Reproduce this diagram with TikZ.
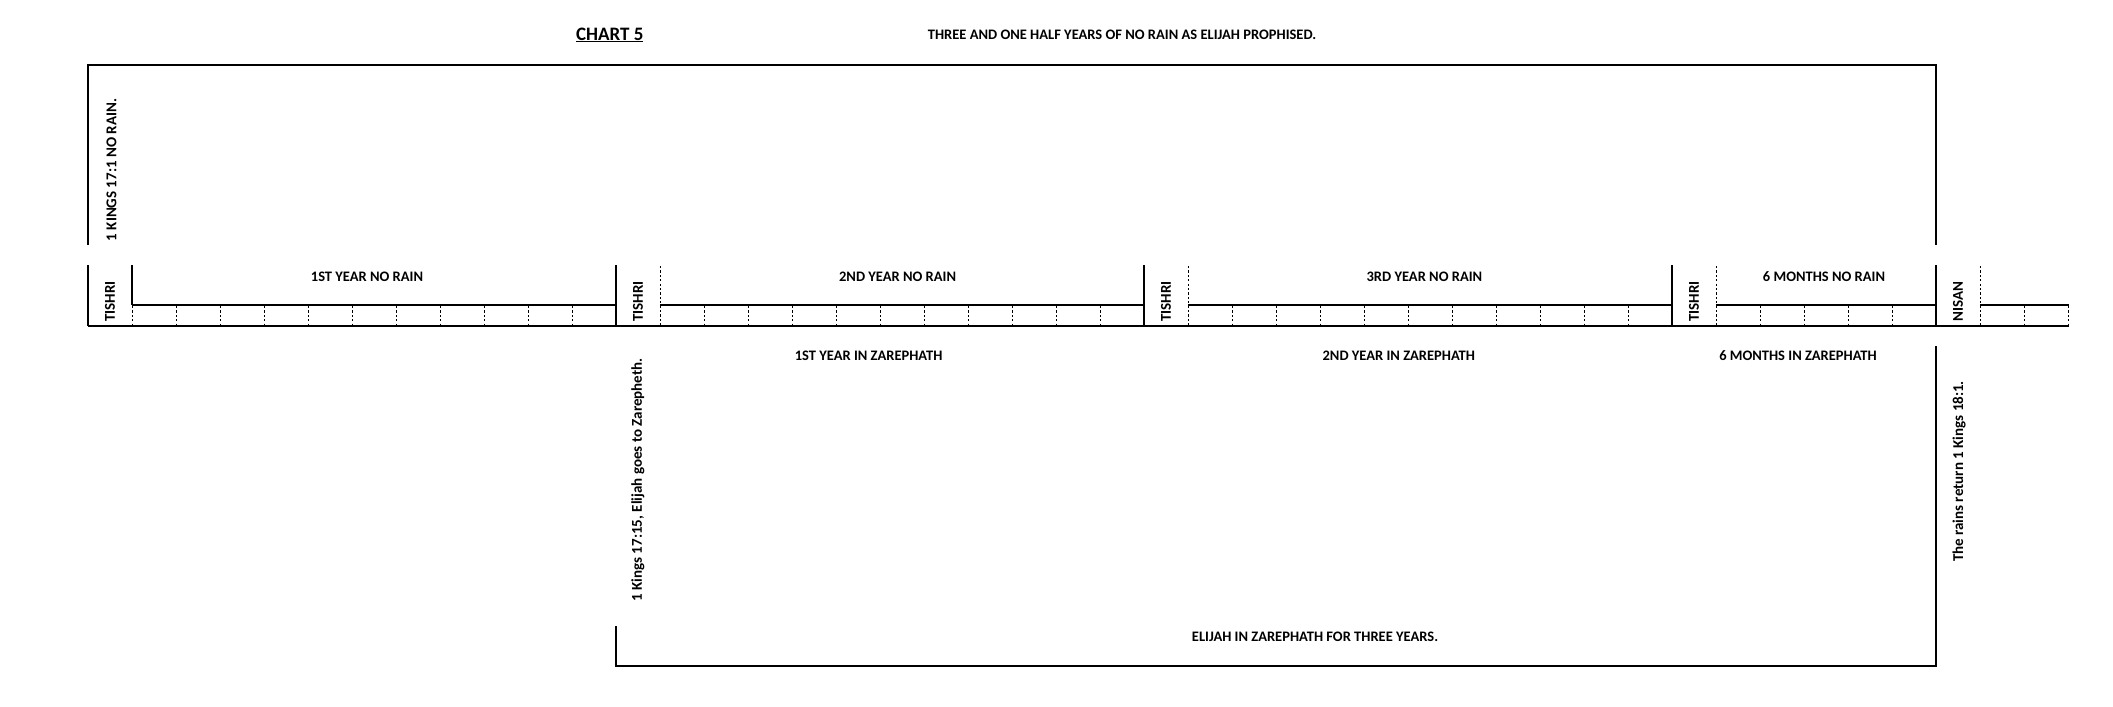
\documentclass[tikz,border=0pt]{standalone}
\usepackage{fontspec}
\setmainfont{Carlito}
\begin{document}
\begin{tikzpicture}[x=1pt,y=-1pt,
  frame/.style={line width=2pt},
  dotline/.style={line width=1pt, dash pattern=on 2.2pt off 2.2pt},
  lbl/.style={font=\bfseries\fontsize{14.5}{17}\selectfont, inner sep=0pt},
  vlbl/.style={lbl, font=\bfseries\fontsize{15}{18}\selectfont, rotate=90},
]
\useasboundingbox (0,0) rectangle (2113,707);
\fill[white] (0,0) rectangle (2113,707);

% frames
\draw[frame] (88,245) -- (88,65) -- (1936,65) -- (1936,245);
\draw[frame] (616,626) -- (616,666) -- (1936,666) -- (1936,346);

% timeline
\draw[frame] (88,325.5) -- (2068.5,325.5);
\foreach \x in {88,616,1144,1672,1936} \draw[frame] (\x,265) -- (\x,325.5);
\draw[frame] (132,265) -- (132,304.5);
\draw[frame] (132,304.5) -- (616,304.5);
\draw[frame] (660,304.5) -- (1144,304.5);
\draw[frame] (1188,304.5) -- (1672,304.5);
\draw[frame] (1716,304.5) -- (1936,304.5);
\draw[frame] (1980,304.5) -- (2068.5,304.5);

% dotted full-height after TISHRI / NISAN
\foreach \x in {660,1188,1716,1980} \draw[dotline] (\x,266) -- (\x,325);
% month ticks
\foreach \x in {132,176,...,573} \draw[dotline] (\x,306) -- (\x,325);
\foreach \x in {704,748,...,1101} \draw[dotline] (\x,306) -- (\x,325);
\foreach \x in {1232,1276,...,1629} \draw[dotline] (\x,306) -- (\x,325);
\foreach \x in {1760,1804,...,1893} \draw[dotline] (\x,306) -- (\x,325);
\foreach \x in {2024,2068.5} \draw[dotline] (\x,306) -- (\x,325);

% titles
\node[lbl, font=\bfseries\fontsize{19}{22}\selectfont] (title) at (609.7,35) {\underline{CHART 5}};
\node[lbl] (head) at (1122,35) {THREE AND ONE HALF YEARS OF NO RAIN AS ELIJAH PROPHISED.};

% year labels
\node[lbl] (y1) at (367,276.7) {1ST YEAR NO RAIN};
\node[lbl] (y2) at (897.6,276.7) {2ND YEAR NO RAIN};
\node[lbl] (y3) at (1424.4,276.7) {3RD YEAR NO RAIN};
\node[lbl] (y4) at (1824,276.7) {6 MONTHS NO RAIN};

\node[lbl] (z1) at (868.6,356) {1ST YEAR IN ZAREPHATH};
\node[lbl] (z2) at (1398.8,356) {2ND YEAR IN ZAREPHATH};
\node[lbl] (z3) at (1798,356) {6 MONTHS IN ZAREPHATH};
\node[lbl] (z4) at (1315,637) {ELIJAH IN ZAREPHATH FOR THREE YEARS.};

% rotated labels
\node[vlbl, anchor=west] (t1) at (110,322) {TISHRI};
\node[vlbl, anchor=west] (t2) at (638,322) {TISHRI};
\node[vlbl, anchor=west] (t3) at (1166,322) {TISHRI};
\node[vlbl, anchor=west] (t4) at (1694,322) {TISHRI};
\node[vlbl, anchor=west] (n1) at (1958,322) {NISAN};

\node[vlbl] (k1) at (111.5,170) {1 KINGS 17:1 NO RAIN.};
\node[vlbl] (k2) at (638,480) {1 Kings 17:15, Elijah goes to Zarepheth.};
\node[vlbl] (k3) at (1959,471.5) {The rains return 1 Kings 18:1.};
\end{tikzpicture}
\end{document}
